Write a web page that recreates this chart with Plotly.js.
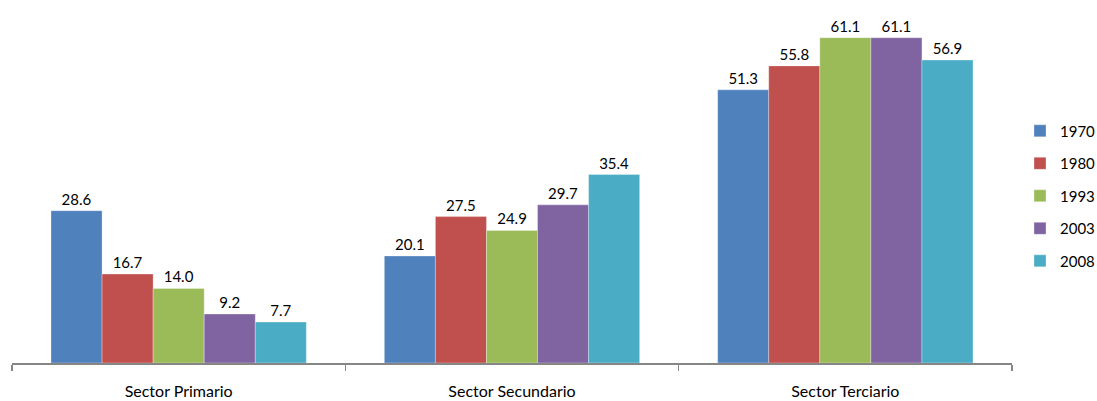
<!DOCTYPE html>
<html>
<head>
<meta charset="utf-8">
<script src="https://cdn.plot.ly/plotly-3.0.1.min.js"></script>
<style>html,body{margin:0;padding:0;background:#fff;}#chart{width:1097px;height:401px;}</style>
</head>
<body>
<div id="chart"></div>
<script>
const categories = ["Sector Primario", "Sector Secundario", "Sector Terciario"];
const seriesNames = ["1970", "1980", "1993", "2003", "2008"];
const v1970 = [28.6, 20.1, 51.3];
const v1980 = [16.7, 27.5, 55.8];
const v1993 = [14.0, 24.9, 61.1];
const v2003 = [9.2, 29.7, 61.1];
const v2008 = [7.7, 35.4, 56.9];
const colors = ["#4F81BD", "#C0504D", "#9BBB59", "#8064A2", "#4BACC6"];

const values = [v1970, v1980, v1993, v2003, v2008];
const font = "Lato, Open Sans, sans-serif";
const traces = values.map((vals, i) => ({
  type: "bar",
  name: seriesNames[i],
  legendgroup: "g" + i,
  x: categories,
  y: vals,
  marker: {color: colors[i], line: {color: "rgba(255,255,255,0.6)", width: 0.5}},
  text: vals.map(v => v.toFixed(1)),
  textposition: "outside",
  cliponaxis: false,
  textfont: {family: font, size: 15, color: "#000"}
}));

const layout = {
  width: 1097, height: 401,
  margin: {l: 12, r: 85, t: 10, b: 38},
  paper_bgcolor: "#fff", plot_bgcolor: "#fff",
  barmode: "group", bargap: 0.234, bargroupgap: 0,
  showlegend: true,
  legend: {xref: "container", yref: "container", x: 1020/1097, xanchor: "left",
    y: 0.511, yanchor: "middle", traceorder: "grouped",
    font: {family: font, size: 15, color: "#000"}, tracegroupgap: 10, itemwidth: 30},
  xaxis: {type: "category", showline: true, linecolor: "#868686", linewidth: 1.5,
    ticks: "outside", tickson: "boundaries", ticklen: 6, tickcolor: "#868686", tickwidth: 1.5,
    ticklabelstandoff: 13,
    tickfont: {family: font, size: 16, color: "#000"}, showgrid: false, zeroline: false},
  yaxis: {range: [0, 66.3], visible: false, showgrid: false, zeroline: false},
  font: {family: font, size: 15, color: "#000"}
};
Plotly.newPlot("chart", traces, layout, {displayModeBar: false, staticPlot: true});
</script>
</body>
</html>
